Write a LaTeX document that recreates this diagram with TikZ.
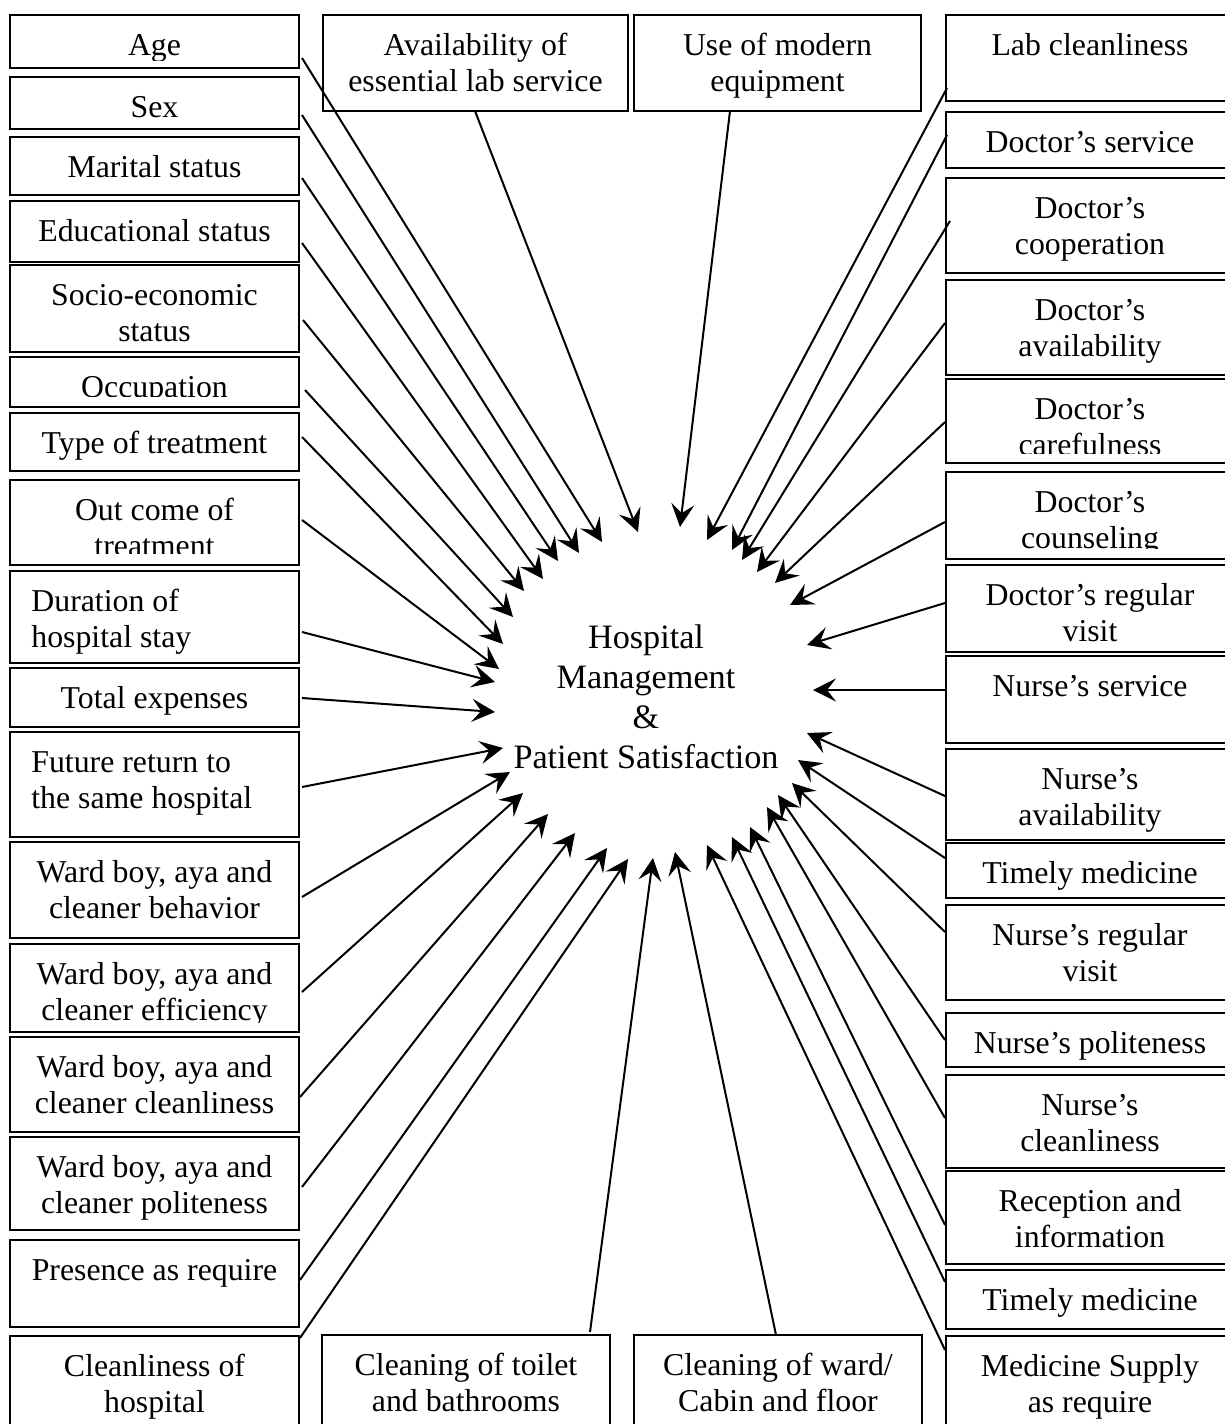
\documentclass[tikz,border=0pt]{standalone}
\usepackage{fontspec}
\setmainfont{Liberation Serif}
\usetikzlibrary{arrows.meta}
\tikzset{
  boxst/.style={draw, line width=1pt, inner sep=0pt, outer sep=0pt},
  ctxt/.style={inner sep=0pt, align=center, anchor=north, font=\fontsize{15.9}{18}\selectfont},
  ltxt/.style={inner sep=0pt, align=left, anchor=north west, font=\fontsize{15.9}{18}\selectfont},
  arr/.style={line width=1pt, -{Stealth[length=11.5pt,width=11.5pt,inset=4.5pt]}},
}
% name, x1, y1, x2, y2, text x, text style, text, clip inset at bottom
\newcommand\factorbox[9]{%
  \node[boxst, minimum width={(#4-#2)*0.5pt}, minimum height={(#5-#3)*0.5pt}, anchor=north west] (#1) at (#2,#3) {};
  \begin{scope}
    \clip (#2,#3) rectangle (#4,{#5-#9});
    \node[#7] (#1-t) at (#6,{#3+15}) {\strut #8};
  \end{scope}}
\begin{document}
\begin{tikzpicture}[x=0.5pt,y=-0.5pt]
\useasboundingbox (0,0) rectangle (1225,1424);
% left column
\factorbox{age}{10}{15}{299}{68}{154.5}{ctxt}{Age}{8}
\factorbox{sex}{10}{77}{299}{129}{154.5}{ctxt}{Sex}{6}
\factorbox{mar}{10}{137}{299}{195}{154.5}{ctxt}{Marital status}{6}
\factorbox{edu}{10}{201}{299}{262}{154.5}{ctxt}{Educational status}{6}
\factorbox{soc}{10}{265}{299}{352}{154.5}{ctxt}{Socio-economic\\status}{11}
\factorbox{occ}{10}{357}{299}{407}{154.5}{ctxt}{Occupation}{11}
\factorbox{typ}{10}{413}{299}{471}{154.5}{ctxt}{Type of treatment}{6}
\factorbox{out}{10}{480}{299}{565}{154.5}{ctxt}{Out come of\\treatment}{12}
\factorbox{dur}{10}{571}{299}{663}{31}{ltxt}{Duration of\\hospital stay}{6}
\factorbox{tot}{10}{668}{299}{727}{154.5}{ctxt}{Total expenses}{6}
\factorbox{fut}{10}{732}{299}{837}{31}{ltxt}{Future return to\\the same hospital}{6}
\factorbox{wbb}{10}{842}{299}{938}{154.5}{ctxt}{Ward boy, aya and\\cleaner behavior}{6}
\factorbox{wbe}{10}{944}{299}{1032}{154.5}{ctxt}{Ward boy, aya and\\cleaner efficiency}{10}
\factorbox{wbc}{10}{1037}{299}{1132}{154.5}{ctxt}{Ward boy, aya and\\cleaner cleanliness}{6}
\factorbox{wbp}{10}{1137}{299}{1230}{154.5}{ctxt}{Ward boy, aya and\\cleaner politeness}{6}
\factorbox{pre}{10}{1240}{299}{1327}{154.5}{ctxt}{Presence as require}{6}
\factorbox{clh}{10}{1336}{299}{1445}{154.5}{ctxt}{Cleanliness of\\hospital}{6}
% top
\factorbox{avl}{323}{15}{628}{111}{475.5}{ctxt}{Availability of\\essential lab service}{6}
\factorbox{mod}{634}{15}{921}{111}{777.5}{ctxt}{Use of modern\\equipment}{6}
% bottom
\factorbox{toi}{322}{1335}{610}{1445}{466}{ctxt}{Cleaning of toilet\\and bathrooms}{6}
\factorbox{war}{634}{1335}{922}{1445}{778}{ctxt}{Cleaning of ward/\\Cabin and floor}{6}
% right column
\factorbox{lab}{946}{15}{1234}{101}{1090}{ctxt}{Lab cleanliness}{6}
\factorbox{dsv}{946}{112}{1234}{168}{1090}{ctxt}{Doctor’s service}{6}
\factorbox{dco}{946}{178}{1234}{273}{1090}{ctxt}{Doctor’s\\cooperation}{6}
\factorbox{dav}{946}{280}{1234}{375}{1090}{ctxt}{Doctor’s\\availability}{6}
\factorbox{dca}{946}{379}{1234}{463}{1090}{ctxt}{Doctor’s\\carefulness}{10}
\factorbox{dcn}{946}{472}{1234}{559}{1090}{ctxt}{Doctor’s\\counseling}{11}
\factorbox{drv}{946}{565}{1234}{652}{1090}{ctxt}{Doctor’s regular\\visit}{6}
\factorbox{nsv}{946}{656}{1234}{743}{1090}{ctxt}{Nurse’s service}{6}
\factorbox{nav}{946}{749}{1234}{840}{1090}{ctxt}{Nurse’s\\availability}{9}
\factorbox{tm1}{946}{843}{1234}{898}{1090}{ctxt}{Timely medicine}{6}
\factorbox{nrv}{946}{905}{1234}{1000}{1090}{ctxt}{Nurse’s regular\\visit}{6}
\factorbox{npo}{946}{1013}{1234}{1067}{1090}{ctxt}{Nurse’s politeness}{6}
\factorbox{ncl}{946}{1075}{1234}{1168}{1090}{ctxt}{Nurse’s\\cleanliness}{6}
\factorbox{rec}{946}{1171}{1234}{1264}{1090}{ctxt}{Reception and\\information}{6}
\factorbox{tm2}{946}{1270}{1234}{1329}{1090}{ctxt}{Timely medicine}{6}
\factorbox{med}{946}{1336}{1234}{1445}{1090}{ctxt}{Medicine Supply\\as require}{6}
% centre
\node[inner sep=0pt, align=center, anchor=north, font=\fontsize{17.1}{20}\selectfont] (hub) at (646,620)
  {\strut Hospital\\Management\\\&\\Patient Satisfaction};
% connectors
\foreach \n/\sx/\sy/\ex/\ey in {
  age/302/58/602/542, sex/302/115/579/553, mar/302/178/558/561, edu/302/243/543/579,
  soc/303/320/524/591, occ/305/390/513/617, typ/302/437/503/644, out/302/520/499/669,
  dur/302/632/495/682, tot/302/698/495/712, fut/302/787/503/748, wbb/302/897/510/772,
  wbe/302/992/523/793, wbc/300/1097/548/814, wbp/302/1187/575/833, pre/300/1280/607/848,
  clh/300/1338/628/859,
  avl/475/111/638/532, mod/730/111/680/527,
  toi/590/1332/653/858, war/776/1335/675/852,
  lab/947/88/707/540, dsv/947/135/732/550, dco/950/221/742/560, dav/945/323/757/572,
  dca/945/422/775/583, dcn/945/522/790/605, drv/945/603/807/645, nsv/945/690/813/690,
  nav/945/796/807/733, tm1/945/858/798/760, nrv/945/932/792/783, npo/945/1040/778/795,
  ncl/945/1118/767/807, rec/945/1225/750/827, tm2/945/1282/732/837, med/945/1350/707/845}
{
  \coordinate (\n-s) at (\sx,\sy);
  \coordinate (\n-e) at (\ex,\ey);
  \draw[arr] (\n-s) -- (\n-e);
}
\end{tikzpicture}
\end{document}
